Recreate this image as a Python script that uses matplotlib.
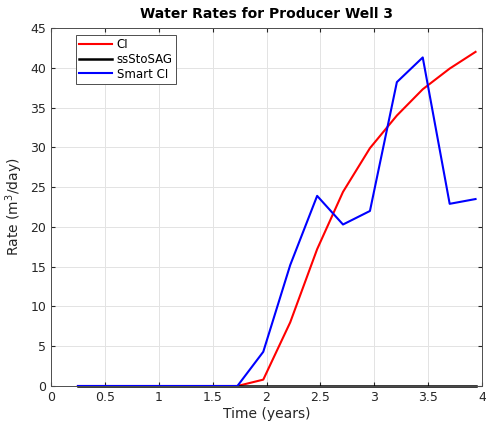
import numpy as np
import matplotlib
matplotlib.use("Agg")
import matplotlib.pyplot as plt

# report times in years (90-day steps)
time_years = [0.25, 0.49, 0.74, 0.99, 1.23, 1.48, 1.73, 1.97, 2.22, 2.47,
              2.71, 2.96, 3.21, 3.45, 3.70, 3.94]
rate_ci = [0, 0, 0, 0, 0, 0, 0, 0.8, 8.0, 17.2, 24.4, 29.9, 34.0, 37.3, 39.9, 42.0]
rate_ssstosag = [0] * 16
rate_smart_ci = [0, 0, 0, 0, 0, 0, 0, 4.3, 15.2, 23.9, 20.3, 22.0, 38.2, 41.3, 22.9, 23.5]

plt.rcParams['font.family'] = 'DejaVu Sans'

fig = plt.figure(figsize=(4.86, 4.28), dpi=100)
ax = fig.add_axes([51 / 486, 42 / 428, 431 / 486, 358 / 428])

ax.plot(time_years, rate_ci, color='#ff0000', lw=1.5, label='CI')
ax.plot(time_years, rate_ssstosag, color='black', lw=1.8, label='ssStoSAG', clip_on=False)
ax.plot(time_years, rate_smart_ci, color='#0000ff', lw=1.5, label='Smart CI')

ax.set_xlim(0, 4)
ax.set_ylim(0, 45)
ax.set_xticks(np.arange(0, 4.01, 0.5))
ax.set_xticklabels(['0', '0.5', '1', '1.5', '2', '2.5', '3', '3.5', '4'])
ax.set_yticks(np.arange(0, 46, 5))
ax.grid(True, color='#e3e3e3', lw=0.7)
ax.set_axisbelow(True)
ax.tick_params(direction='in', length=3, labelsize=9, colors='#262626',
               top=True, right=True)
for s in ax.spines.values():
    s.set_color('#4d4d4d')
    s.set_linewidth(0.7)

ax.set_xlabel('Time (years)', fontsize=10, color='#262626', labelpad=2)
ax.set_ylabel('Rate (m$^3$/day)', fontsize=10, color='#262626', labelpad=4)
ax.set_title('Water Rates for Producer Well 3', fontsize=10, fontweight='bold', pad=7)

leg = ax.legend(loc='upper left', bbox_to_anchor=(0.05, 0.99), fontsize=8.5,
                fancybox=False, framealpha=1, edgecolor='#4d4d4d',
                handlelength=2.8, borderpad=0.25, labelspacing=0.15,
                handletextpad=0.4, borderaxespad=0.3)
leg.get_frame().set_linewidth(0.7)

fig.savefig('out.png', dpi=100)
